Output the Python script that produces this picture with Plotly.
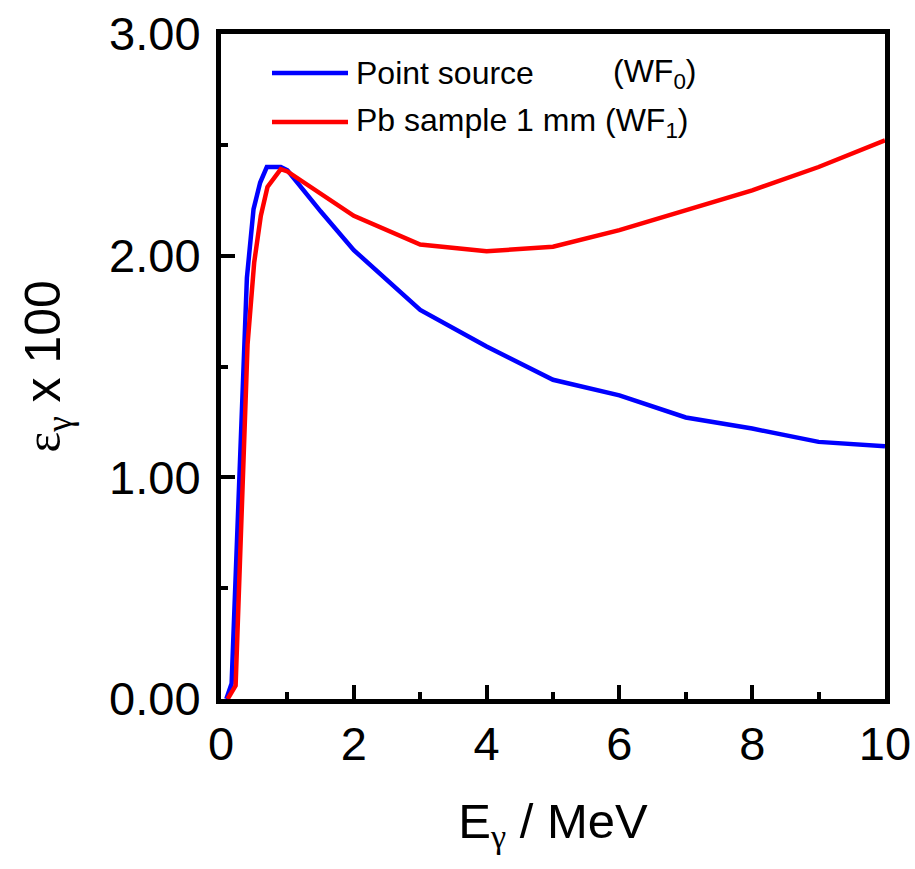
import plotly.graph_objects as go

# Point source (WF0)
e_point = [0.08, 0.16, 0.39, 0.49, 0.59, 0.69, 0.9, 1.0, 1.5, 2, 3, 4, 5, 6, 7, 8, 9, 10]
eff_point = [0.0, 0.07, 1.90, 2.21, 2.33, 2.40, 2.40, 2.385, 2.20, 2.025, 1.755, 1.59, 1.44, 1.37, 1.27, 1.22, 1.16, 1.14]

# Pb sample 1 mm (WF1)
e_pb = [0.1, 0.22, 0.4, 0.5, 0.6, 0.7, 0.9, 1.0, 2, 3, 4, 5, 6, 7, 8, 9, 10]
eff_pb = [0.0, 0.06, 1.60, 1.97, 2.18, 2.31, 2.39, 2.38, 2.18, 2.05, 2.02, 2.04, 2.115, 2.205, 2.295, 2.40, 2.52]

legend_labels = ["Point source", "Pb sample 1 mm (WF<sub>1</sub>)"]
legend_suffix0 = "(WF<sub>0</sub>)"

FONT = "Liberation Sans, Arial, sans-serif"
SERIF = "Liberation Serif, Times New Roman, serif"
BLUE = "#0000ff"
RED = "#ff0000"

fig = go.Figure()
fig.add_trace(go.Scatter(x=e_point, y=eff_point, mode="lines",
                         line=dict(color=BLUE, width=4.5), name="Point source (WF0)", showlegend=False))
fig.add_trace(go.Scatter(x=e_pb, y=eff_pb, mode="lines",
                         line=dict(color=RED, width=4.5), name="Pb sample 1 mm (WF1)", showlegend=False))

axis_common = dict(showline=True, linecolor="black", linewidth=5, mirror=True,
                   ticks="inside", ticklen=14, tickwidth=4, tickcolor="black",
                   showgrid=False, zeroline=False,
                   tickfont=dict(family=FONT, size=47, color="black"))

fig.update_xaxes(range=[0, 10], tickmode="array", tickvals=[0, 2, 4, 6, 8, 10],
                 minor=dict(tickvals=[1, 3, 5, 7, 9], ticks="inside", ticklen=7, tickwidth=4, tickcolor="black"),
                 title=dict(text="E<sub><span style='font-family:" + SERIF + "'>γ</span></sub> / MeV",
                            font=dict(family=FONT, size=49, color="black"), standoff=36),
                 **axis_common)
fig.update_yaxes(range=[0, 3], tickmode="array", tickvals=[0, 1, 2, 3], tickformat=".2f",
                 minor=dict(tickvals=[0.5, 1.5, 2.5], ticks="inside", ticklen=7, tickwidth=4, tickcolor="black"),
                 title=dict(text="<span style='font-family:" + SERIF + "'>ε<sub>γ</sub></span> x 100",
                            font=dict(family=FONT, size=50, color="black"), standoff=34),
                 ticklabelstandoff=6,
                 **axis_common)

# legend drawn manually (long line samples)
W, H = 915, 869
L, R, T, B = 221, 30, 34, 170
pw, ph = W - L - R, H - T - B
def px(x): return (x - L) / pw
def py(y): return 1 - (y - T) / ph

for yy, col in [(73, BLUE), (122, RED)]:
    fig.add_shape(type="line", xref="paper", yref="paper", x0=px(272), x1=px(348), y0=py(yy), y1=py(yy),
                  line=dict(color=col, width=4.5))
fig.add_annotation(xref="paper", yref="paper", x=px(354), y=py(73), text=legend_labels[0], showarrow=False,
                   xanchor="left", yanchor="middle", font=dict(family=FONT, size=32, color="black"))
fig.add_annotation(xref="paper", yref="paper", x=px(699), y=py(73), text=legend_suffix0, showarrow=False,
                   xanchor="right", yanchor="middle", font=dict(family=FONT, size=32, color="black"))
fig.add_annotation(xref="paper", yref="paper", x=px(354), y=py(122), text=legend_labels[1], showarrow=False,
                   xanchor="left", yanchor="middle", font=dict(family=FONT, size=32, color="black"))

fig.update_layout(width=W, height=H, margin=dict(l=L, r=R, t=T, b=B, autoexpand=False),
                  plot_bgcolor="white", paper_bgcolor="white", showlegend=False,
                  font=dict(family=FONT, color="black"))

fig.write_html("out.html")
